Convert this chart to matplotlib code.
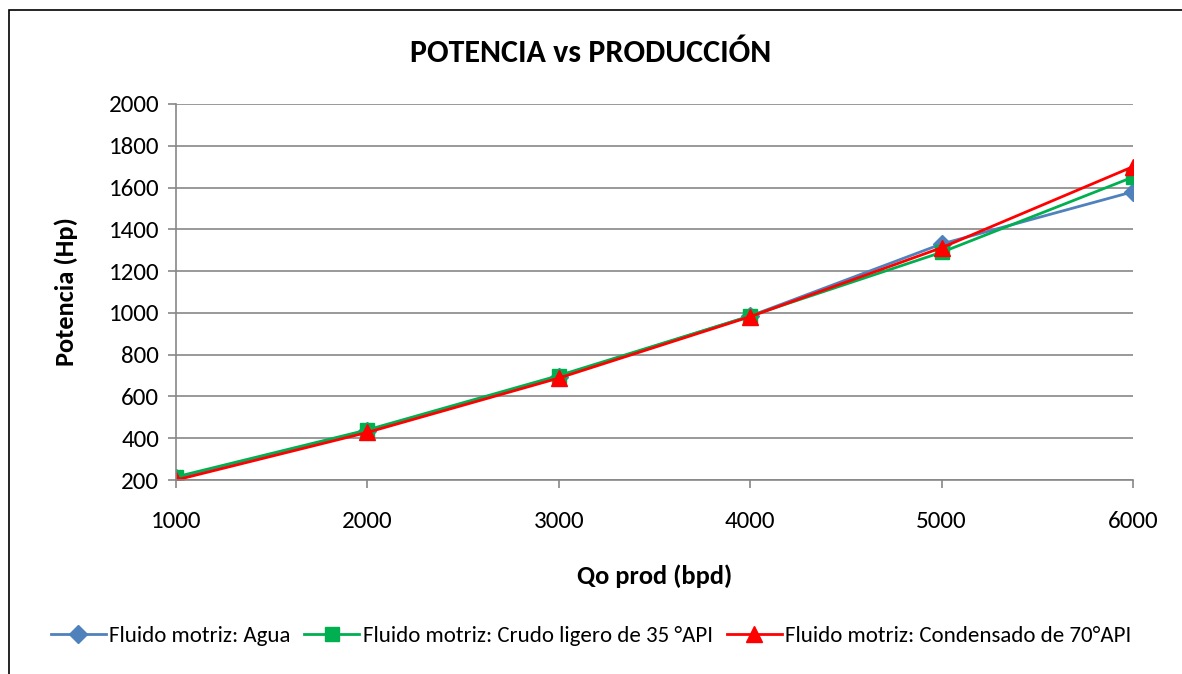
import matplotlib
matplotlib.use("Agg")
import matplotlib.pyplot as plt
from matplotlib.patches import Rectangle

plt.rcParams['font.family'] = ['Carlito', 'Liberation Sans Narrow', 'Liberation Sans', 'DejaVu Sans']

# datos
qo = [1000, 2000, 3000, 4000, 5000, 6000]
agua = [210, 435, 695, 985, 1330, 1580]
crudo = [215, 440, 700, 985, 1290, 1650]
condensado = [200, 428, 688, 982, 1312, 1700]
series_names = ["Fluido motriz: Agua",
                "Fluido motriz: Crudo ligero de 35 °API",
                "Fluido motriz: Condensado de 70°API"]

fig = plt.figure(figsize=(11.82, 6.74), dpi=100)
ax = fig.add_axes([0.1489, 0.2878, 0.8096, 0.5579])

ax.plot(qo, agua, color="#4F81BD", lw=2, marker="D", ms=9, label=series_names[0])
ax.plot(qo, crudo, color="#00B050", lw=2, marker="s", ms=10, label=series_names[1])
ax.plot(qo, condensado, color="#FF0000", lw=2, marker="^", ms=11, label=series_names[2])

ax.set_xlim(1000, 6000)
ax.set_ylim(200, 2000)
ax.set_xticks(range(1000, 6001, 1000))
ax.set_yticks(range(200, 2001, 200))
ax.grid(axis="y", color="#878787", lw=1.2)
ax.set_axisbelow(True)
for s in ["top", "right"]:
    ax.spines[s].set_visible(False)
for s in ["left", "bottom"]:
    ax.spines[s].set_color("#878787")
    ax.spines[s].set_linewidth(1.2)
ax.tick_params(axis="both", colors="#878787", labelcolor="black", labelsize=18, length=6, width=1.2)
ax.tick_params(axis="x", pad=16)
ax.tick_params(axis="y", pad=6)

ax.set_xlabel("Qo prod (bpd)", fontsize=19, fontweight="bold", labelpad=24)
ax.set_ylabel("Potencia (Hp)", fontsize=19, fontweight="bold", labelpad=22)
fig.text(0.5, 0.922, "POTENCIA vs PRODUCCIÓN", ha="center", va="center", fontsize=23, fontweight="bold")

fig.legend(loc="center", bbox_to_anchor=(0.5, 0.056), ncol=3, frameon=False, fontsize=16.5,
           handlelength=2.4, handletextpad=0.15, columnspacing=0.6)

fig.patches.append(Rectangle((0.008, -0.01), 1.1, 0.995, transform=fig.transFigure,
                             fill=False, edgecolor="black", lw=1.2))

fig.savefig("out.png", dpi=100)
